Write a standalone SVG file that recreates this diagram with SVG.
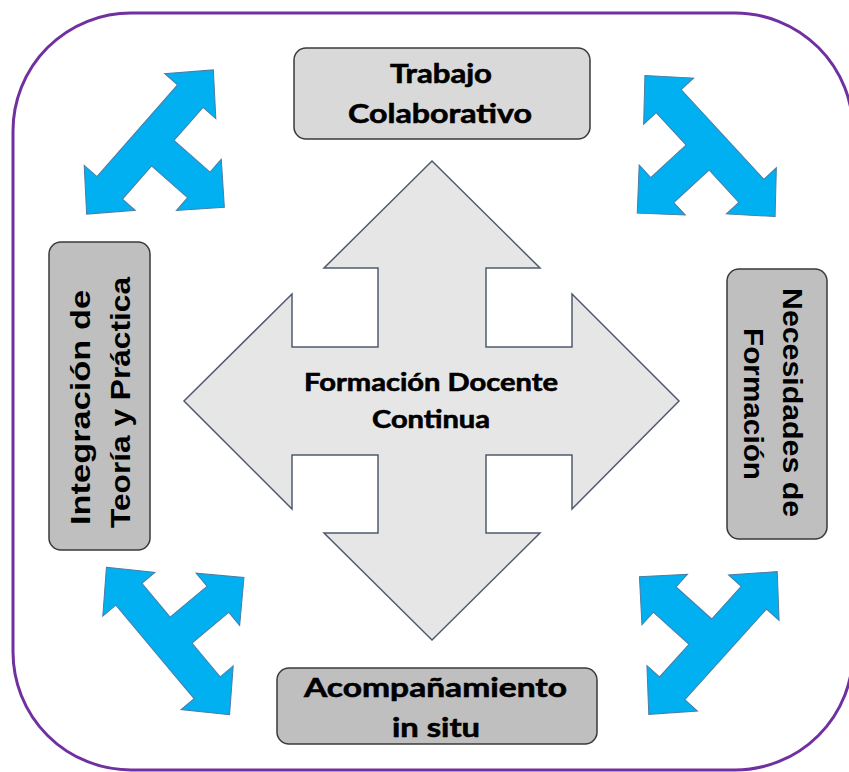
<svg xmlns="http://www.w3.org/2000/svg" width="849" height="772" viewBox="0 0 849 772">
  <style>
    .frame { fill: #FFFFFF; stroke: #7030A0; stroke-width: 3; }
    .box { stroke: #3A3A3A; stroke-width: 1.5; }
    .light { fill: #D9D9D9; }
    .dark { fill: #BFBFBF; }
    .cal { font-family: Lato, "Open Sans", "Liberation Sans", sans-serif; font-weight: bold; fill: #000000; stroke: #000000; stroke-width: 0.6; }
    .ari { font-family: "Liberation Sans", Arial, sans-serif; font-weight: bold; fill: #000000; }
    .blue { fill: #00B0F0; stroke: #4A7DA6; stroke-width: 1; stroke-linejoin: miter; }
    .center { fill: #E7E6E6; stroke: #4F5B6D; stroke-width: 1.5; }
  </style>
  <defs>
    <polygon id="tri" points="96,0 61,34 61,17 17,17 17,65 34,65 0,99 -34,65 -17,65 -17,17 -61,17 -61,34 -96,0 -61,-34 -61,-17 61,-17 61,-34"/>
  </defs>

  <rect class="frame" x="13" y="13" width="840" height="757" rx="118" ry="118"/>

  <g id="connectors">
    <use href="#tri" class="blue" transform="translate(150,142) rotate(-48.7)"/>
    <use href="#tri" class="blue" transform="translate(710,146) rotate(47.3)"/>
    <use href="#tri" class="blue" transform="translate(168,641) rotate(-129.9)"/>
    <use href="#tri" class="blue" transform="translate(713,643) rotate(132)"/>
  </g>

  <g id="formacion-docente">
    <polygon class="center" points="432,161 540,268 486,268 486,347 572,347 572,294 679,401 572,509 572,455 486,455 486,533 540,533 432,640 324,533 378,533 378,455 292,455 292,509 184,401 292,294 292,347 378,347 378,268 324,268"/>
    <text class="cal" x="431" y="391" font-size="24" text-anchor="middle" textLength="254" lengthAdjust="spacingAndGlyphs">Formación Docente</text>
    <text class="cal" x="431" y="428" font-size="24" text-anchor="middle" textLength="118" lengthAdjust="spacingAndGlyphs">Continua</text>
  </g>

  <g id="trabajo-colaborativo">
    <rect class="box light" x="294" y="48" width="296" height="91" rx="12" ry="12"/>
    <text class="cal" x="441" y="83" font-size="27" text-anchor="middle" textLength="102" lengthAdjust="spacingAndGlyphs">Trabajo</text>
    <text class="cal" x="440" y="123" font-size="27" text-anchor="middle" textLength="184" lengthAdjust="spacingAndGlyphs">Colaborativo</text>
  </g>

  <g id="integracion">
    <rect class="box dark" x="49" y="242" width="101" height="308" rx="12" ry="12"/>
    <text class="ari" transform="translate(90,407.5) rotate(-90)" x="0" y="0" font-size="27" text-anchor="middle" textLength="235" lengthAdjust="spacingAndGlyphs">Integración de</text>
    <text class="ari" transform="translate(130,402.5) rotate(-90)" x="0" y="0" font-size="27" text-anchor="middle" textLength="251" lengthAdjust="spacingAndGlyphs">Teoría y Práctica</text>
  </g>

  <g id="necesidades">
    <rect class="box dark" x="727" y="269" width="100" height="270" rx="12" ry="12"/>
    <text class="ari" transform="translate(783,402.5) rotate(90)" x="0" y="0" font-size="27" text-anchor="middle" textLength="229" lengthAdjust="spacingAndGlyphs">Necesidades de</text>
    <text class="ari" transform="translate(744,404) rotate(90)" x="0" y="0" font-size="27" text-anchor="middle" textLength="152" lengthAdjust="spacingAndGlyphs">Formación</text>
  </g>

  <g id="acompanamiento">
    <rect class="box dark" x="277" y="668" width="320" height="76" rx="12" ry="12"/>
    <text class="cal" x="435.5" y="697" font-size="27" text-anchor="middle" textLength="263" lengthAdjust="spacingAndGlyphs">Acompañamiento</text>
    <text class="cal" x="436" y="737" font-size="27" text-anchor="middle" textLength="88" lengthAdjust="spacingAndGlyphs">in situ</text>
  </g>
</svg>
